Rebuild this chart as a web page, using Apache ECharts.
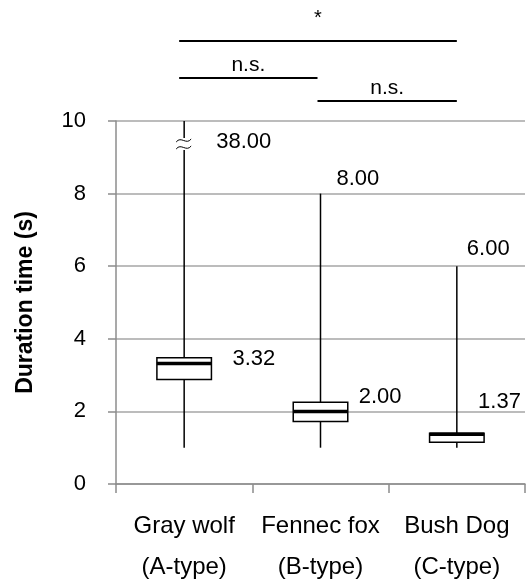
<!DOCTYPE html>
<html>
<head>
<meta charset="utf-8">
<script src="https://cdn.jsdelivr.net/npm/echarts@6/dist/echarts.min.js"></script>
<style>
html,body{margin:0;padding:0;background:#fff;}
#chart{width:526px;height:588px;}
</style>
</head>
<body>
<div id="chart"></div>
<script>
// ---- data ----
const categories = ['Gray wolf\n(A-type)', 'Fennec fox\n(B-type)', 'Bush Dog\n(C-type)'];
const minValues = [1.0, 1.0, 1.0];
const q1Values = [2.88, 1.72, 1.15];
const medianValues = [3.32, 2.00, 1.37];
const q3Values = [3.48, 2.25, 1.40];
const maxValues = [38.00, 8.00, 6.00];
const yTickValues = [0, 2, 4, 6, 8, 10];
const compFrom = [0, 0, 1];
const compTo = [2, 1, 2];
const compLabels = ['*', 'n.s.', 'n.s.'];

// ---- layout / style ----
const FONT = "'Liberation Sans', Arial, sans-serif";
const Y_MIN = yTickValues[0];
const Y_MAX = yTickValues[yTickValues.length - 1];
const Y_INT = yTickValues[1] - yTickValues[0];
const maxLabelOffset = [[32, 21], [16, -15], [10, -17]];
const medLabelOffset = [[21, -5], [11, -14], [-6, -32]];
const compY = [41, 78, 101];
const compTextY = [18, 65, 88];

const seriesData = categories.map((c, i) => [i, minValues[i], q1Values[i], medianValues[i], q3Values[i], maxValues[i]]);

const chart = echarts.init(document.getElementById('chart'), null, {renderer: 'canvas'});

function renderItem(params, api) {
  const idx = api.value(0);
  const vMin = api.value(1), vQ1 = api.value(2), vMed = api.value(3), vQ3 = api.value(4), vMax = api.value(5);
  const bw = api.size([1, 0])[0] * 0.4;
  const pMin = api.coord([idx, vMin]);
  const pTop = api.coord([idx, Math.min(vMax, Y_MAX)]);
  const pQ1 = api.coord([idx, vQ1]);
  const pQ3 = api.coord([idx, vQ3]);
  const pMed = api.coord([idx, vMed]);
  const x = pMin[0];
  const children = [
    {type: 'line', shape: {x1: x, y1: pMin[1], x2: x, y2: pTop[1]}, style: {stroke: '#000', lineWidth: 1.5}},
    {type: 'rect', shape: {x: x - bw / 2, y: pQ3[1], width: bw, height: pQ1[1] - pQ3[1]}, style: {fill: '#fff', stroke: '#000', lineWidth: 1.5}},
    {type: 'line', shape: {x1: x - bw / 2, y1: pMed[1], x2: x + bw / 2, y2: pMed[1]}, style: {stroke: '#000', lineWidth: 3.5}},
    {type: 'text', style: {text: vMax.toFixed(2), x: x + maxLabelOffset[idx][0], y: pTop[1] + maxLabelOffset[idx][1], font: '22px ' + FONT, fill: '#000', textAlign: 'left', textVerticalAlign: 'middle'}},
    {type: 'text', style: {text: vMed.toFixed(2), x: x + bw / 2 + medLabelOffset[idx][0], y: pMed[1] + medLabelOffset[idx][1], font: '22px ' + FONT, fill: '#000', textAlign: 'left', textVerticalAlign: 'middle'}}
  ];
  if (vMax > Y_MAX) {
    // axis-break marker on the whisker
    const yb = pTop[1] + 23;
    children.push({type: 'rect', shape: {x: x - 3, y: yb - 6, width: 6, height: 12}, style: {fill: '#fff'}});
    [-3.5, 3.5].forEach(d => {
      children.push({type: 'bezierCurve', shape: {x1: x - 8, y1: yb + d + 1.5, cpx1: x - 3, cpy1: yb + d - 5, cpx2: x + 2, cpy2: yb + d + 5, x2: x + 7, y2: yb + d - 1.5}, style: {stroke: '#000', lineWidth: 1, fill: null}});
    });
  }
  return {type: 'group', children: children};
}

chart.setOption({
  animation: false,
  backgroundColor: '#fff',
  grid: {left: 116, right: 1, top: 121, bottom: 98, containLabel: false},
  xAxis: {
    type: 'category',
    data: categories,
    boundaryGap: true,
    axisLine: {lineStyle: {color: '#8c8c8c', width: 1.5}},
    axisTick: {show: true, alignWithLabel: false, length: 9, lineStyle: {color: '#8c8c8c', width: 1.5}},
    axisLabel: {fontSize: 24, fontFamily: FONT, color: '#000', lineHeight: 41, margin: 22, interval: 0}
  },
  yAxis: {
    type: 'value',
    min: Y_MIN, max: Y_MAX, interval: Y_INT,
    name: 'Duration time (s)',
    nameLocation: 'middle',
    nameGap: 79,
    nameTextStyle: {fontSize: 23, fontWeight: 'bold', fontFamily: FONT, color: '#000'},
    axisLine: {show: true, lineStyle: {color: '#8c8c8c', width: 1.5}},
    axisTick: {show: true, length: 8, lineStyle: {color: '#8c8c8c', width: 1.5}},
    axisLabel: {fontSize: 22, fontFamily: FONT, color: '#000', margin: 30},
    splitLine: {show: true, lineStyle: {color: '#a6a6a6', width: 1.5}}
  },
  series: [{
    type: 'custom',
    renderItem: renderItem,
    data: seriesData,
    encode: {x: 0, y: [1, 2, 3, 4, 5]},
    clip: false,
    z: 10
  }]
});

// significance brackets
const gfx = [];
compFrom.forEach((f, k) => {
  const x1 = chart.convertToPixel({xAxisIndex: 0}, f);
  const x2 = chart.convertToPixel({xAxisIndex: 0}, compTo[k]);
  const a = f === 0 ? x1 - 5 : x1 - 3;
  const b = compTo[k] === 1 ? x2 - 3 : x2;
  gfx.push({type: 'line', shape: {x1: a, y1: compY[k], x2: b, y2: compY[k]}, style: {stroke: '#000', lineWidth: 2}});
  gfx.push({type: 'text', style: {text: compLabels[k], x: (a + b) / 2, y: compTextY[k], font: (compLabels[k] === '*' ? '20px ' : '21px ') + FONT, fill: '#000', textAlign: 'center', textVerticalAlign: 'middle'}});
});
chart.setOption({graphic: gfx});
</script>
</body>
</html>
